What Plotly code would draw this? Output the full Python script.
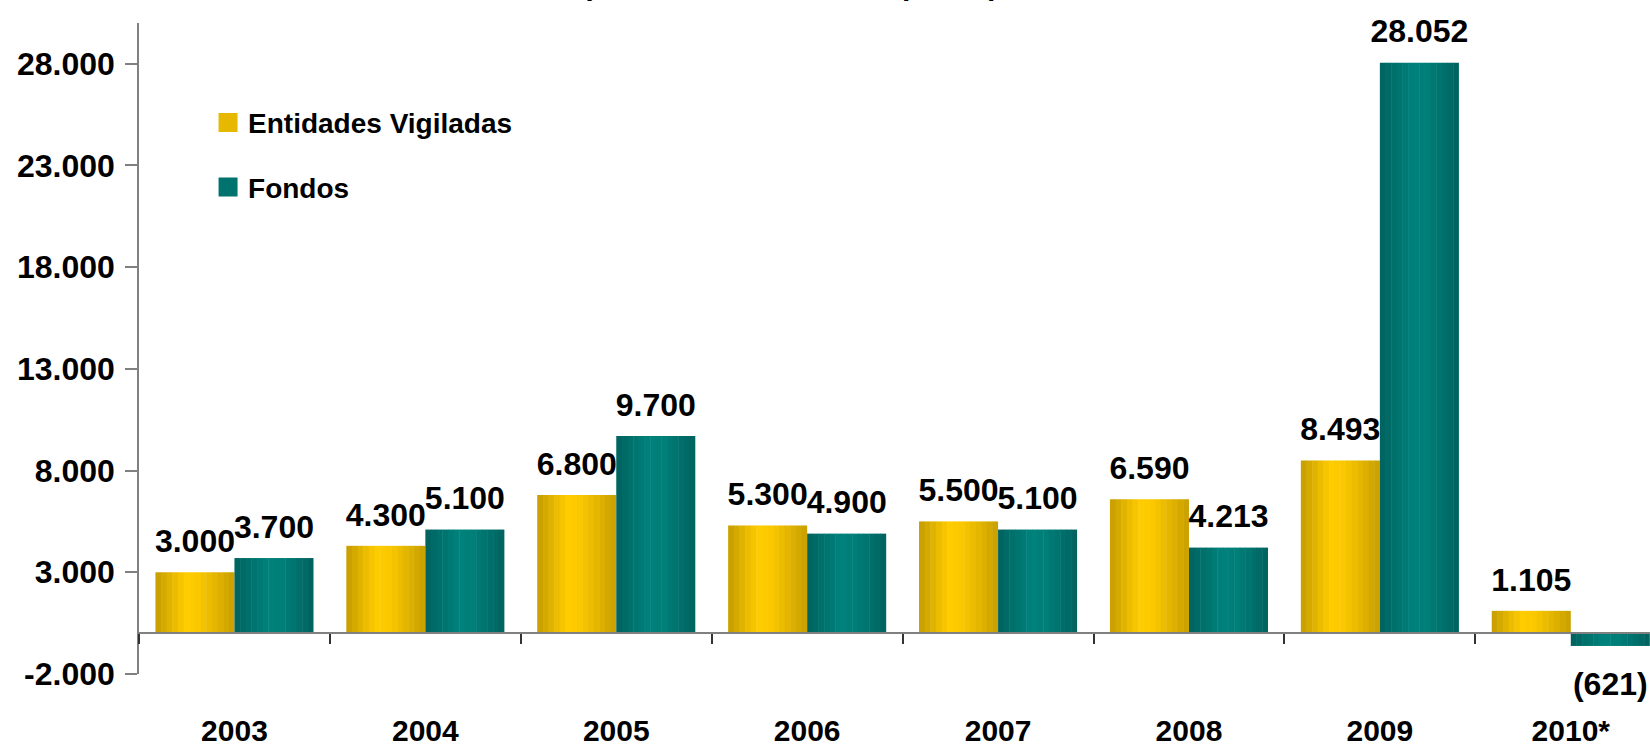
import plotly.graph_objects as go

# ---- data ----
years = ["2003", "2004", "2005", "2006", "2007", "2008", "2009", "2010*"]
entidades = [3000, 4300, 6800, 5300, 5500, 6590, 8493, 1105]
fondos = [3700, 5100, 9700, 4900, 5100, 4213, 28052, -621]
series_names = ["Entidades Vigiladas", "Fondos"]
y_ticks = [-2000, 3000, 8000, 13000, 18000, 23000, 28000]
subtitle = "(Cifras en millones de pesos)"


def fmt_label(v):
    if v < 0:
        return "(" + f"{abs(v):,}".replace(",", ".") + ")"
    return f"{v:,}".replace(",", ".")


def fmt_tick(v):
    return f"{v:,}".replace(",", ".")


def hex2rgb(h):
    h = h.lstrip("#")
    return tuple(int(h[i:i + 2], 16) for i in (0, 2, 4))


def grad(stops, t):
    for (t0, c0), (t1, c1) in zip(stops[:-1], stops[1:]):
        if t0 <= t <= t1:
            a = (t - t0) / (t1 - t0) if t1 > t0 else 0
            r0, r1 = hex2rgb(c0), hex2rgb(c1)
            return "rgb(%d,%d,%d)" % tuple(round(x + (y - x) * a) for x, y in zip(r0, r1))
    return stops[-1][1]


FONT = "Liberation Sans, Arial, sans-serif"
yellow_stops = [(0, "#C49C00"), (0.38, "#FFCC00"), (0.55, "#FBC800"), (1, "#C79F00")]
teal_stops = [(0, "#00625E"), (0.42, "#00827C"), (0.6, "#007E78"), (1, "#00625F")]
W = 0.414
N = 14
X_RANGE = [-0.5, 7.415]

fig = go.Figure()
for vals, stops, base in [(entidades, yellow_stops, -W), (fondos, teal_stops, 0.0)]:
    for i in range(N):
        t = (i + 0.5) / N
        fig.add_trace(go.Bar(
            x=years, y=vals,
            width=W / N * (1.08 if i < N - 1 else 1.0),
            offset=base + i * W / N,
            marker=dict(color=grad(stops, t), line=dict(width=0)),
            showlegend=False, hoverinfo="skip",
        ))

# data labels, placed on a linear twin of the category axis (category i -> i)
for vals, shift in [(entidades, -W / 2), (fondos, W / 2)]:
    fig.add_trace(go.Scatter(
        x=[i + shift for i in range(len(years))], y=vals, xaxis="x2",
        mode="markers+text",
        text=[fmt_label(v) for v in vals],
        textposition=["top center" if v >= 0 else "bottom center" for v in vals],
        textfont=dict(family=FONT, size=32, color="black", weight="bold"),
        marker=dict(size=[18 if v >= 0 else 38 for v in vals],
                    color="rgba(0,0,0,0)", opacity=0,
                    line=dict(width=0, color="rgba(0,0,0,0)")),
        showlegend=False, hoverinfo="skip", cliponaxis=False,
    ))

# legend entries
for name, col in [(series_names[0], "#E6B800"), (series_names[1], "#00736E")]:
    fig.add_trace(go.Scatter(
        x=[None], y=[None], xaxis="x2", mode="markers", name=name,
        marker=dict(symbol="square", size=16, color=col, line=dict(color=col, width=3)),
        legendgroup=name,
    ))

fig.update_layout(
    width=1650, height=747,
    margin=dict(l=139, r=0, t=23, b=63),
    paper_bgcolor="white", plot_bgcolor="white",
    barmode="overlay",
    font=dict(family=FONT, size=30, color="black"),
    showlegend=True,
    legend=dict(
        x=0.0457, y=0.885, xanchor="left", yanchor="top",
        font=dict(family=FONT, size=28, color="black", weight="bold"),
        traceorder="grouped", tracegroupgap=25,
        bgcolor="rgba(0,0,0,0)",
    ),
    xaxis=dict(
        type="category", categoryorder="array", categoryarray=years,
        range=X_RANGE,
        anchor="free", position=2000 / 32000,
        showline=True, linecolor="#808080", linewidth=2,
        ticks="outside", tickson="boundaries", ticklen=10, tickcolor="#333333", tickwidth=1.5,
        ticklabelstandoff=71,
        tickfont=dict(family=FONT, size=30, color="black", weight="bold"),
        showgrid=False, zeroline=False,
    ),
    xaxis2=dict(
        type="linear", range=X_RANGE, overlaying="x", anchor="y",
        visible=False, showgrid=False, zeroline=False,
    ),
    yaxis=dict(
        range=[-2000, 30000],
        tickvals=y_ticks, ticktext=[fmt_tick(v) for v in y_ticks],
        showline=True, linecolor="#808080", linewidth=1.5,
        ticks="outside", ticklen=12, tickcolor="#808080", tickwidth=1.5,
        ticklabelstandoff=4,
        tickfont=dict(family=FONT, size=32, color="black", weight="bold"),
        showgrid=False, zeroline=False,
    ),
    annotations=[dict(
        text=subtitle, xref="paper", yref="paper", x=0.4315, y=1,
        xanchor="center", yanchor="bottom", yshift=20, showarrow=False,
        font=dict(family=FONT, size=30, color="black", weight="bold"),
    )],
)

fig.write_html("out.html")
